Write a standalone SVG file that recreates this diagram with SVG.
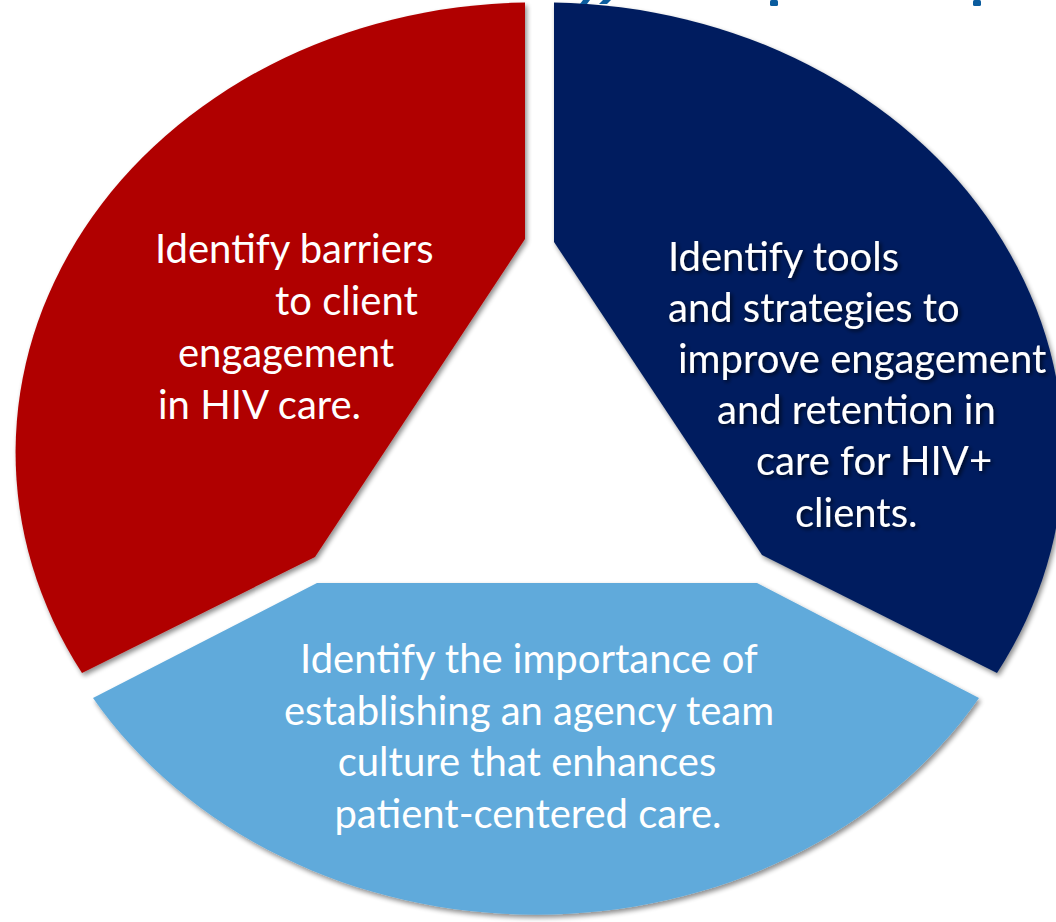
<svg xmlns="http://www.w3.org/2000/svg" width="1056" height="922" viewBox="0 0 1056 922">
  <defs>
    <filter id="segShadow" x="-10%" y="-10%" width="120%" height="120%">
      <feGaussianBlur in="SourceAlpha" stdDeviation="2.5"/>
      <feOffset dx="2" dy="3" result="blur"/>
      <feComponentTransfer><feFuncA type="linear" slope="0.45"/></feComponentTransfer>
      <feMerge><feMergeNode/><feMergeNode in="SourceGraphic"/></feMerge>
    </filter>
    <filter id="textShadow" x="-10%" y="-20%" width="120%" height="150%">
      <feGaussianBlur in="SourceAlpha" stdDeviation="2"/>
      <feOffset dx="2" dy="2" result="blur"/>
      <feComponentTransfer><feFuncA type="linear" slope="0.7"/></feComponentTransfer>
      <feMerge><feMergeNode/><feMergeNode in="SourceGraphic"/></feMerge>
    </filter>
  </defs>
  <style>
    .seg { filter: url(#segShadow); }
    .label { font-family: Lato, "Liberation Sans", sans-serif; font-size: 40px; fill: #FFFFFF; }
    .shadowed { filter: url(#textShadow); }
    .title-frag { fill: #0B5C9E; }
  </style>

  <rect width="1056" height="922" fill="#FFFFFF"/>

  <!-- left segment: elliptical sector (rx 518, ry 450) with its tip cut off -->
  <g id="barriers">
    <path class="seg" fill="#B00000" d="M525,2.6 L525,239 L315,557 L82,673 A518,450 0 0 1 525,2.6 Z"/>
    <g class="label">
      <text x="155" y="263">Identify barriers</text>
      <text x="275" y="315">to client</text>
      <text x="178" y="367">engagement</text>
      <text x="158" y="419">in HIV care.</text>
    </g>
  </g>

  <!-- right segment -->
  <g id="tools">
    <path class="seg" fill="#001F5E" d="M554,2.6 A518,450 0 0 1 997,673 L762,555 L554,242 Z"/>
    <g class="label shadowed">
      <text x="668" y="271">Identify tools</text>
      <text x="668" y="322">and strategies to</text>
      <text x="678" y="373">improve engagement</text>
      <text x="717" y="424">and retention in</text>
      <text x="756" y="475">care for HIV+</text>
      <text x="795" y="527">clients.</text>
    </g>
  </g>

  <!-- bottom segment -->
  <g id="culture">
    <path class="seg" fill="#60AADB" d="M317,583 L757,583 L979,698 A518,450 0 0 1 93,698 Z"/>
    <g class="label" text-anchor="middle">
      <text x="529" y="673">Identify the importance of</text>
      <text x="529" y="725">establishing an agency team</text>
      <text x="527" y="776">culture that enhances</text>
      <text x="528" y="828">patient-centered care.</text>
    </g>
  </g>

  <!-- descender tips of the heading that sits above the chart -->
  <g id="heading-fragments">
    <polygon class="title-frag" points="583,0 590,0 587,4 580,4"/>
    <polygon class="title-frag" points="603,0 611,0 607,4 599,4"/>
    <rect class="title-frag" x="770" y="0" width="8" height="6" rx="1.5"/>
    <rect class="title-frag" x="973" y="0" width="8" height="6" rx="1.5"/>
  </g>

  <g id="connectors"/>
</svg>
